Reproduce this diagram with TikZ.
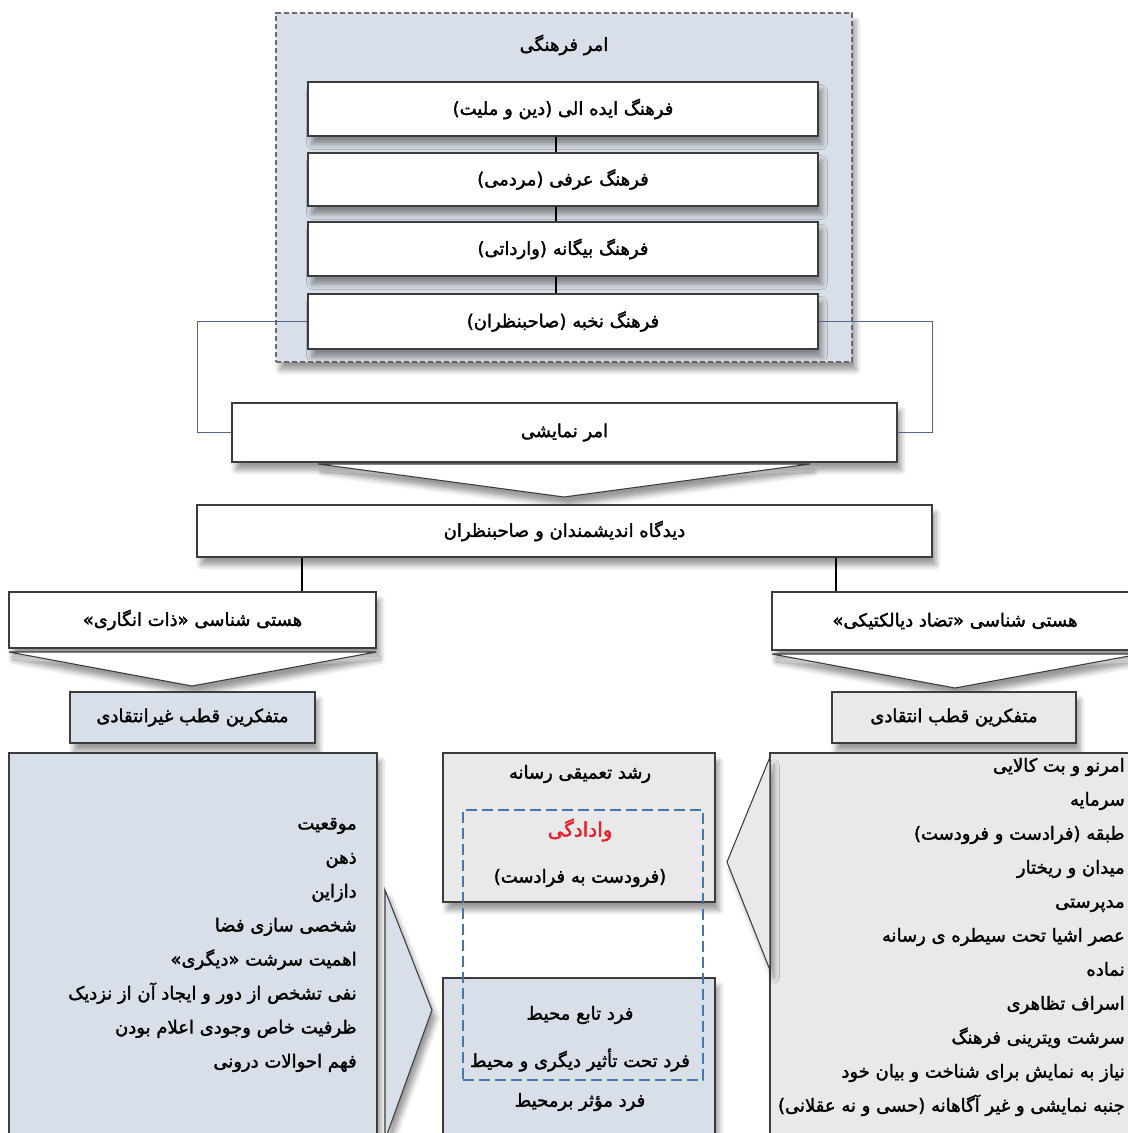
\documentclass[tikz,border=0pt]{standalone}
\usepackage{fontspec}
\usetikzlibrary{fit,shadows.blur,calc}
\TeXXeTstate=1
\newfontfamily\persfont[Script=Arabic,FakeBold=1.8]{DejaVu Sans}
\newcommand\pers[1]{{\persfont\beginR #1\endR}}
\definecolor{lblue}{RGB}{217,223,232}
\definecolor{lgray}{RGB}{233,233,233}
\definecolor{bord}{RGB}{60,60,60}
\definecolor{connc}{RGB}{85,100,140}
\definecolor{dblue}{RGB}{70,120,170}
\definecolor{dred}{RGB}{232,30,40}
\definecolor{dashc}{RGB}{105,105,110}
\begin{document}
\begin{tikzpicture}[x=0.75pt,y=-0.75pt,
  shad/.style={blur shadow={shadow xshift=3pt,shadow yshift=-6pt,shadow blur radius=4pt,shadow opacity=40}},
  box/.style={draw=bord,line width=1pt,fill=white,inner sep=0pt,shad},
  bluebox/.style={box,fill=lblue},
  graybox/.style={box,fill=lgray},
  chev/.style={draw=bord,line width=0.8pt,fill=white,shad},
  link/.style={draw=black,line width=1.4pt},
  bluelink/.style={draw=connc,line width=1.1pt},
  txt/.style={font=\fontsize{13.5}{15}\selectfont,inner sep=0pt},
  listtxt/.style={font=\fontsize{13.5}{25.5}\selectfont,align=right,inner sep=0pt}
]
\useasboundingbox (0,0) rectangle (1128,1133);
\clip (0,0) rectangle (1128,1133);

% outer dashed group
\node[draw=dashc,line width=1.1pt,dash pattern=on 4pt off 2pt,fill=lblue,inner sep=0pt,shad,fit={(276,13) (852,362)}] (outer) {};
\node[txt] (t0) at (564,45) {\pers{امر فرهنگی}};

\node[box,fit={(308,82) (818,136)}] (b1) {};
\node[txt] (b1t) at (b1.center) {\pers{فرهنگ ایده الی (دین و ملیت)}};
\node[box,fit={(308,153) (818,206)}] (b2) {};
\node[txt] (b2t) at (b2.center) {\pers{فرهنگ عرفی (مردمی)}};
\node[box,fit={(308,222) (818,276)}] (b3) {};
\node[txt] (b3t) at (b3.center) {\pers{فرهنگ بیگانه (وارداتی)}};
\node[box,fit={(308,294) (818,349)}] (b4) {};
\node[txt] (b4t) at (b4.center) {\pers{فرهنگ نخبه (صاحبنظران)}};

\draw[link] ([xshift=-5pt]b1.south) -- ([xshift=-5pt]b2.north);
\draw[link] ([xshift=-5pt]b2.south) -- ([xshift=-5pt]b3.north);
\draw[link] ([xshift=-5pt]b3.south) -- ([xshift=-5pt]b4.north);

\node[box,fit={(232,403) (897,462)}] (nm) {};
\node[txt] (nmt) at (nm.center) {\pers{امر نمایشی}};
\draw[bluelink] (b4.west) -- ++(-110,0) |- (nm.west);
\draw[bluelink] (b4.east) -- ++(114,0) |- (nm.east);

\draw[chev] (318,464) -- (810,464) -- (564,497) -- cycle;

\node[box,fit={(197,505) (932,557)}] (dd) {};
\node[txt] (ddt) at (dd.center) {\pers{دیدگاه اندیشمندان و صاحبنظران}};

\node[box,fit={(9,592) (376,648)}] (ol) {};
\node[txt] (olt) at (ol.center) {\pers{هستی شناسی «ذات انگاری»}};
\node[box,fit={(772,592) (1140,650)}] (or) {};
\node[txt] (ort) at (955,621) {\pers{هستی شناسی «تضاد دیالکتیکی»}};
\coordinate (xl) at (302,0);
\coordinate (xr) at (836,0);
\draw[link] (dd.south -| xl) -- (ol.north -| xl);
\draw[link] (dd.south -| xr) -- (or.north -| xr);

\draw[chev] (9,652) -- (376,652) -- (192,686) -- cycle;
\draw[chev] (772,654) -- (1140,654) -- (955,688) -- cycle;

\node[bluebox,fit={(70,692) (315,743)}] (pl) {};
\node[txt] (plt) at (pl.center) {\pers{متفکرین قطب غیرانتقادی}};
\node[graybox,fit={(832,692) (1076,743)}] (pr) {};
\node[txt] (prt) at (pr.center) {\pers{متفکرین قطب انتقادی}};

% left list
\node[bluebox,fit={(9,753) (377,1145)}] (ll) {};
\node[listtxt,anchor=east] (lltext) at (357,945) {%
\pers{موقعیت}\\
\pers{ذهن}\\
\pers{دازاین}\\
\pers{شخصی سازی فضا}\\
\pers{اهمیت سرشت «دیگری»}\\
\pers{نفی تشخص از دور و ایجاد آن از نزدیک}\\
\pers{ظرفیت خاص وجودی اعلام بودن}\\
\pers{فهم احوالات درونی}};
\draw[chev,fill=lblue] (385,890) -- (432,1010) -- (385,1140) -- cycle;

% right list
\node[graybox,fit={(770,753) (1145,1145)}] (rl) {};
\draw[chev,fill=lgray] (770,757) -- (727,862) -- (770,970) -- cycle;
\node[listtxt,anchor=east] (rltext) at (1125,937) {%
\pers{امرنو و بت کالایی}\\
\pers{سرمایه}\\
\pers{طبقه (فرادست و فرودست)}\\
\pers{میدان و ریختار}\\
\pers{مدپرستی}\\
\pers{عصر اشیا تحت سیطره ی رسانه}\\
\pers{نماده}\\
\pers{اسراف تظاهری}\\
\pers{سرشت ویترینی فرهنگ}\\
\pers{نیاز به نمایش برای شناخت و بیان خود}\\
\pers{جنبه نمایشی و غیر آگاهانه (حسی و نه عقلانی)}};

% middle
\node[graybox,fit={(443,753) (715,902)}] (mu) {};
\node[bluebox,fit={(443,978) (715,1145)}] (md) {};
\node[txt] (m1) at (580,774) {\pers{رشد تعمیقی رسانه}};
\node[txt,text=dred,font=\fontsize{15}{17}\selectfont] (m2) at (580,830) {\pers{وادادگی}};
\node[txt] (m3) at (580,878) {\pers{(فرودست به فرادست)}};
\node[txt] (m4) at (580,1015) {\pers{فرد تابع محیط}};
\node[txt] (m5) at (580,1060) {\pers{فرد تحت تأثیر دیگری و محیط}};
\node[txt] (m6) at (580,1102) {\pers{فرد مؤثر برمحیط}};
\node[draw=dblue,line width=2pt,dash pattern=on 8pt off 4pt,inner sep=0pt,fit={(463,810) (703,1080)}] (dz) {};
\end{tikzpicture}
\end{document}
